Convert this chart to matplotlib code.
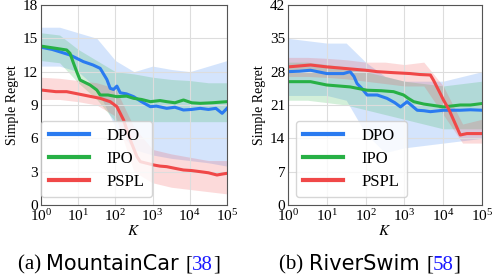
import numpy as np
import matplotlib
matplotlib.use("Agg")
import matplotlib.pyplot as plt
from matplotlib.offsetbox import TextArea, HPacker, AnchoredOffsetbox

plt.rcParams['font.family'] = 'Liberation Serif'
plt.rcParams['mathtext.fontset'] = 'stix'

# ---- MountainCar (left) : log10(K) -> simple regret ----
mc_dpo_k = [0, 0.3, 0.78, 1.14, 1.4, 1.59, 1.77, 1.86, 1.95, 2.04, 2.13, 2.3, 2.49, 2.7, 2.94, 3.1, 3.38, 3.6, 3.83, 4.05, 4.28, 4.5, 4.7, 4.87, 5]
mc_dpo = [14.2, 14.0, 13.5, 12.9, 12.6, 12.3, 11.3, 10.5, 10.4, 10.7, 10.1, 10.0, 9.75, 9.3, 8.85, 8.9, 8.7, 8.8, 8.55, 8.6, 8.7, 8.6, 8.7, 8.25, 8.7]
mc_ipo_k = [0, 0.4, 0.69, 0.78, 0.87, 0.96, 1.05, 1.2, 1.32, 1.5, 1.59, 1.8, 2.04, 2.3, 2.49, 2.7, 2.94, 3.2, 3.38, 3.6, 3.83, 4.05, 4.28, 4.6, 5]
mc_ipo = [14.3, 14.1, 13.95, 13.65, 12.8, 12.0, 11.25, 11.0, 10.8, 10.35, 9.9, 9.9, 9.75, 9.8, 9.6, 9.5, 9.3, 9.4, 9.3, 9.2, 9.45, 9.2, 9.15, 9.2, 9.3]
mc_pspl_k = [0, 0.4, 0.69, 1.14, 1.59, 1.86, 2.04, 2.22, 2.4, 2.58, 2.67, 2.85, 3.03, 3.2, 3.38, 3.6, 3.83, 4.05, 4.28, 4.5, 4.73, 4.9, 5]
mc_pspl = [10.35, 10.2, 10.2, 9.9, 9.6, 9.3, 8.85, 7.65, 5.85, 4.35, 3.9, 3.75, 3.6, 3.5, 3.45, 3.3, 3.15, 3.1, 3.0, 2.9, 2.7, 2.8, 2.85]
mc_band_k = [0, 0.5, 1, 1.5, 2, 2.5, 3, 3.5, 4, 4.5, 5]
mc_dpo_lo = [12.5, 12.5, 12.0, 10.5, 7.0, 5.0, 4.5, 4.2, 4.0, 3.8, 3.5]
mc_dpo_hi = [16.0, 16.0, 15.5, 15.0, 13.0, 12.0, 12.5, 12.2, 12.0, 12.5, 13.0]
mc_ipo_lo = [13.0, 12.8, 11.0, 9.5, 7.5, 7.5, 7.5, 7.5, 7.5, 7.5, 7.5]
mc_ipo_hi = [15.5, 15.3, 14.0, 13.0, 12.0, 11.8, 11.5, 11.3, 11.2, 11.0, 11.0]
mc_pspl_lo = [9.5, 9.5, 9.3, 9.0, 8.0, 3.0, 2.0, 1.6, 1.4, 1.2, 1.0]
mc_pspl_hi = [11.5, 11.4, 11.2, 11.0, 10.5, 7.0, 5.0, 4.6, 4.3, 4.0, 4.0]

# ---- RiverSwim (right) ----
rs_dpo_k = [0, 0.3, 0.58, 1.0, 1.43, 1.6, 1.7, 1.78, 1.9, 2.04, 2.3, 2.55, 2.75, 2.9, 3.07, 3.2, 3.33, 3.5, 3.67, 4.01, 4.44, 4.7, 5]
rs_dpo = [28.0, 28.1, 28.3, 27.6, 27.6, 28.0, 27.0, 25.5, 24.5, 23.1, 23.1, 22.4, 21.5, 20.6, 21.7, 20.8, 19.9, 19.8, 19.6, 19.9, 19.9, 20.0, 19.9]
rs_ipo_k = [0, 0.58, 1.0, 1.6, 2.04, 2.4, 2.72, 2.98, 3.1, 3.24, 3.5, 3.67, 4.01, 4.44, 4.7, 5]
rs_ipo = [25.9, 25.9, 25.2, 24.8, 24.1, 24.0, 23.8, 23.1, 22.4, 21.7, 21.2, 21.0, 20.6, 21.0, 21.0, 21.3]
rs_pspl_k = [0, 0.58, 1.0, 1.43, 2.0, 2.3, 2.7, 3.15, 3.4, 3.67, 3.75, 3.9, 4.01, 4.15, 4.27, 4.44, 4.61, 4.8, 5]
rs_pspl = [29.0, 29.4, 29.0, 28.7, 28.3, 28.0, 27.8, 27.6, 27.4, 27.3, 26.2, 23.8, 22.0, 20.0, 17.8, 14.7, 15.0, 15.0, 15.0]
rs_band_k = [0, 0.5, 1, 1.5, 2, 2.5, 3, 3.5, 4, 4.5, 5]
rs_dpo_lo = [23.0, 23.0, 23.0, 22.0, 15.0, 11.0, 12.0, 12.5, 13.0, 13.5, 14.0]
rs_dpo_hi = [35.0, 34.5, 34.0, 34.0, 30.0, 27.0, 26.0, 26.0, 26.0, 27.0, 28.0]
rs_ipo_lo = [22.0, 22.0, 21.5, 21.0, 20.0, 19.0, 18.0, 17.0, 16.0, 16.0, 16.0]
rs_ipo_hi = [30.0, 30.0, 29.5, 29.0, 28.0, 27.0, 26.0, 25.5, 25.0, 25.5, 26.0]
rs_pspl_lo = [27.0, 27.0, 26.8, 26.5, 26.0, 25.5, 25.0, 25.0, 19.0, 13.0, 13.0]
rs_pspl_hi = [31.0, 31.0, 30.8, 30.5, 30.0, 30.0, 29.5, 30.0, 25.0, 17.0, 18.0]

blue = '#2a7bf0'
green = '#27b045'
red = '#f04848'

fig = plt.figure(figsize=(4.94, 2.76), dpi=100)
ax1 = fig.add_axes([41/494, 1 - 205/276, 186/494, 200/276])
ax2 = fig.add_axes([288/494, 1 - 205/276, 194/494, 200/276])


def panel(ax, data, ymax, ystep, legx):
    for (k, y, bk, lo, hi, c, name) in data:
        ax.fill_between(np.power(10.0, bk), lo, hi, color=c, alpha=0.2, lw=0)
    for (k, y, bk, lo, hi, c, name) in data:
        ax.plot(np.power(10.0, k), y, color=c, lw=2.2, label=name)
    ax.set_xscale('log')
    ax.set_xlim(1, 1e5)
    ax.set_ylim(0, ymax)
    ax.set_yticks(np.arange(0, ymax + 1, ystep))
    ax.set_xticks([1, 10, 100, 1e3, 1e4, 1e5])
    ax.minorticks_off()
    ax.grid(True, color='#dddddd', lw=0.8)
    ax.tick_params(labelsize=11, length=0, pad=2)
    for s in ax.spines.values():
        s.set_color('#555555')
        s.set_linewidth(0.8)
    ax.set_ylabel('Simple Regret', fontsize=10, labelpad=3)
    ax.set_xlabel('$K$', fontsize=11, labelpad=0)
    leg = ax.legend(loc='lower left', bbox_to_anchor=(legx, 0.04), fontsize=12,
                    handlelength=2.4, borderpad=0.45, labelspacing=0.4,
                    handletextpad=1.1, borderaxespad=0, fancybox=True)
    leg.get_frame().set_edgecolor('#cccccc')
    for l in leg.get_lines():
        l.set_linewidth(3)


panel(ax1, [
    (mc_dpo_k, mc_dpo, mc_band_k, mc_dpo_lo, mc_dpo_hi, blue, 'DPO'),
    (mc_ipo_k, mc_ipo, mc_band_k, mc_ipo_lo, mc_ipo_hi, green, 'IPO'),
    (mc_pspl_k, mc_pspl, mc_band_k, mc_pspl_lo, mc_pspl_hi, red, 'PSPL'),
], 18, 3, 0.0)
panel(ax2, [
    (rs_dpo_k, rs_dpo, rs_band_k, rs_dpo_lo, rs_dpo_hi, blue, 'DPO'),
    (rs_ipo_k, rs_ipo, rs_band_k, rs_ipo_lo, rs_ipo_hi, green, 'IPO'),
    (rs_pspl_k, rs_pspl, rs_band_k, rs_pspl_lo, rs_pspl_hi, red, 'PSPL'),
], 42, 7, 0.04)


def caption(x, tag, name, ref):
    parts = [TextArea(tag + ' ', textprops=dict(family='Liberation Serif', size=15)),
             TextArea(name + ' ', textprops=dict(family='DejaVu Sans', size=15)),
             TextArea('[', textprops=dict(family='Liberation Serif', size=15)),
             TextArea(ref, textprops=dict(family='Liberation Serif', size=15, color='#1a1aff')),
             TextArea(']', textprops=dict(family='Liberation Serif', size=15))]
    box = HPacker(children=parts, pad=0, sep=0, align='baseline')
    ab = AnchoredOffsetbox(loc='center', child=box, frameon=False,
                           bbox_to_anchor=(x, 1 - 264/276),
                           bbox_transform=fig.transFigure, pad=0, borderpad=0)
    fig.add_artist(ab)


caption(119/494, '(a)', 'MountainCar', '38')
caption(370/494, '(b)', 'RiverSwim', '58')

fig.savefig('out.png', dpi=100)
